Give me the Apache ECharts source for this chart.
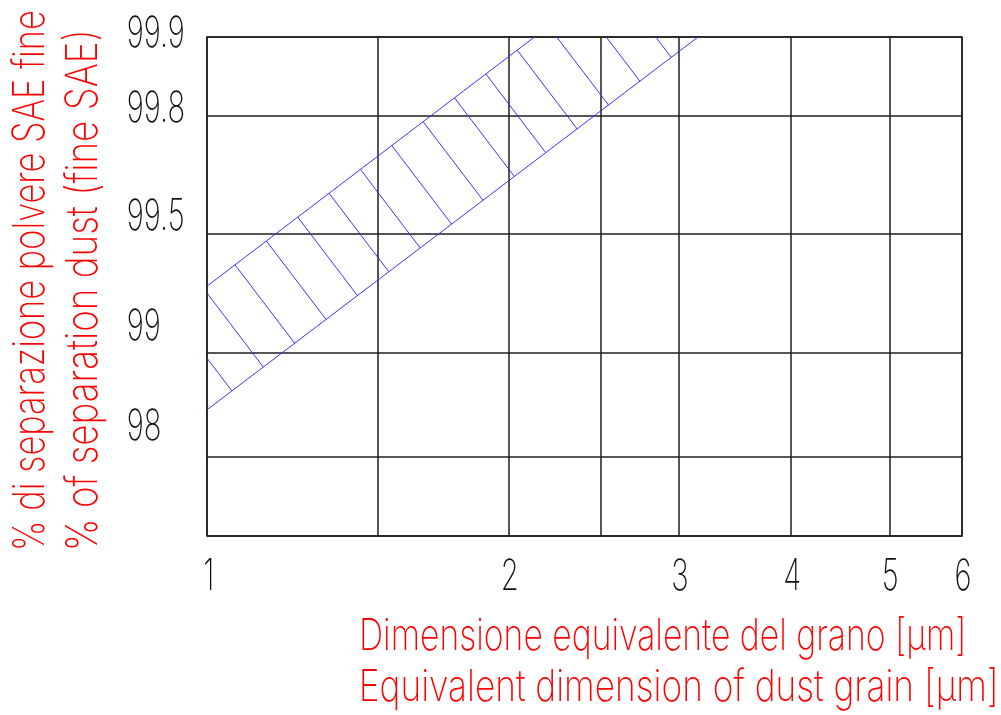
<!DOCTYPE html>
<html>
<head>
<meta charset="utf-8">
<title>Separazione polvere SAE fine</title>
<script src="https://cdn.jsdelivr.net/npm/echarts@6/dist/echarts.min.js"></script>
<style>
  html, body { margin: 0; padding: 0; background: #ffffff; }
  #chart { width: 1001px; height: 715px; }
</style>
</head>
<body>
<div id="chart"></div>
<script>
// ---------------- data ----------------
// grain size in µm, separation efficiency in %
const grainTicks = [1, 2, 3, 4, 5, 6];
const grainRulings = [1, 1.5, 2, 2.5, 3, 4, 5, 6];
const separationTicks = [99.9, 99.8, 99.5, 99, 98];
const separationRulings = [97, 98, 99, 99.5, 99.8, 99.9];

// edges of the efficiency band: [grain µm, separation %]
const bandUpper = [[1, 99.28], [2.14, 99.9]];
const bandLower = [[1, 98.45], [3.17, 99.9]];

const yTitleLines = ['% di separazione polvere SAE fine', '% of separation dust (fine SAE)'];
const xTitleLines = ['Dimensione equivalente del grano [µm]', 'Equivalent dimension of dust grain [µm]'];

// ---------------- ruled paper scales ----------------
// Both axes are hand-ruled, non-uniform scales: each ruling sits at a fixed
// fraction of the axis length, values in between are interpolated linearly.
function makeRuler(values, at) {
  return function (v) {
    for (let i = 1; i < values.length; i++) {
      if (v <= values[i] || i === values.length - 1) {
        const t = (v - values[i - 1]) / (values[i] - values[i - 1]);
        return at[i - 1] + t * (at[i] - at[i - 1]);
      }
    }
  };
}
const xRuler = makeRuler([1, 1.5, 2, 2.5, 3, 4, 5, 6],
                         [0, 0.2256, 0.3996, 0.5215, 0.6252, 0.7735, 0.9037, 1]);
const yRuler = makeRuler([97, 98, 99, 99.5, 99.8, 99.9],
                         [0, 0.159, 0.3677, 0.6052, 0.8417, 1]);
const onRuler = p => [xRuler(p[0]), yRuler(p[1])];

// ---------------- styles ----------------
const GRID_COLOR = '#1e1e1e';
const BAND_COLOR = '#3535ff';
const TITLE_COLOR = '#ff0000';
const LABEL_COLOR = '#111111';
const FONT_FAMILY = "Inter, 'DejaVu Sans', sans-serif";
const FONT_WEIGHT = 200;
const HATCH = { phase: 35.2, step: 39.4 };         // along the band, px
const yLabelLift = { 99.9: -2.8, 99.8: -7.3, 99.5: -16.8, 99: -25, 98: -30 };

// ---------------- hatching ----------------
function clipSegment(p, q, r) {
  let t0 = 0, t1 = 1;
  const dx = q[0] - p[0], dy = q[1] - p[1];
  const checks = [
    [-dx, p[0] - r.x], [dx, r.x + r.width - p[0]],
    [-dy, p[1] - r.y], [dy, r.y + r.height - p[1]]
  ];
  for (const [pp, qq] of checks) {
    if (pp === 0) { if (qq < 0) return null; continue; }
    const t = qq / pp;
    if (pp < 0) { if (t > t1) return null; if (t > t0) t0 = t; }
    else { if (t < t0) return null; if (t < t1) t1 = t; }
  }
  if (t1 - t0 < 1e-3) return null;
  return [[p[0] + t0 * dx, p[1] + t0 * dy], [p[0] + t1 * dx, p[1] + t1 * dy]];
}

function renderHatch(params, api) {
  const rect = params.coordSys;
  const a = api.coord(onRuler(bandUpper[0]));
  const b = api.coord(onRuler(bandUpper[1]));
  const c = api.coord(onRuler(bandLower[0]));
  const d = api.coord(onRuler(bandLower[1]));
  let ex = b[0] - a[0], ey = b[1] - a[1];
  const len = Math.hypot(ex, ey); ex /= len; ey /= len;
  let nx = -ey, ny = ex;
  if ((c[0] - a[0]) * nx + (c[1] - a[1]) * ny < 0) { nx = -nx; ny = -ny; }
  const lx = d[0] - c[0], ly = d[1] - c[1];
  const children = [];
  for (let s = HATCH.phase - 12 * HATCH.step; s < len + 12 * HATCH.step; s += HATCH.step) {
    const p = [a[0] + ex * s, a[1] + ey * s];
    // intersection of the perpendicular through p with the lower edge
    const den = nx * ly - ny * lx;
    const t = ((c[0] - p[0]) * ly - (c[1] - p[1]) * lx) / den;
    const q = [p[0] + nx * t, p[1] + ny * t];
    const seg = clipSegment(p, q, rect);
    if (!seg) continue;
    children.push({
      type: 'line',
      shape: { x1: seg[0][0], y1: seg[0][1], x2: seg[1][0], y2: seg[1][1] },
      style: { stroke: BAND_COLOR, lineWidth: 1 }
    });
  }
  return { type: 'group', children };
}

// ---------------- chart ----------------
const chart = echarts.init(document.getElementById('chart'), null, { renderer: 'canvas' });

const edgeSeries = (name, pts) => ({
  name, type: 'line', data: pts.map(onRuler), symbol: 'none', silent: true,
  lineStyle: { color: BAND_COLOR, width: 1 }, z: 3
});

chart.setOption({
  animation: false,
  backgroundColor: '#ffffff',
  grid: { left: 207, top: 37, right: 39, bottom: 179, show: true,
          borderColor: GRID_COLOR, borderWidth: 1.5, backgroundColor: 'transparent' },
  xAxis: {
    type: 'value', min: 0, max: 1,
    axisLine: { show: false },
    axisTick: { show: false, customValues: grainRulings.map(xRuler) },
    axisLabel: { show: false, customValues: grainTicks.map(xRuler) },
    splitLine: { show: true, lineStyle: { color: GRID_COLOR, width: 1.5 } }
  },
  yAxis: {
    type: 'value', min: 0, max: 1,
    axisLine: { show: false },
    axisTick: { show: false, customValues: separationRulings.map(yRuler) },
    axisLabel: { show: false, customValues: separationTicks.map(yRuler) },
    splitLine: { show: true, lineStyle: { color: GRID_COLOR, width: 1.5 } }
  },
  series: [
    edgeSeries('upper', bandUpper),
    edgeSeries('lower', bandLower),
    { type: 'custom', name: 'hatch', data: [[0, 0]], renderItem: renderHatch,
      clip: false, silent: true, z: 2 }
  ]
});

// ---------------- condensed drafting lettering ----------------
const measureCtx = document.createElement('canvas').getContext('2d');
function fontString(size) { return FONT_WEIGHT + ' ' + size + 'px ' + FONT_FAMILY; }
function ink(str, size) {
  measureCtx.font = fontString(size);
  const m = measureCtx.measureText(str);
  return { left: m.actualBoundingBoxLeft, width: m.actualBoundingBoxLeft + m.actualBoundingBoxRight };
}
function textEl(str, size, color, x, y, opts) {
  return Object.assign({
    type: 'text', x, y, silent: true, z: 100,
    style: {
      text: str, fill: color, fontSize: size, fontFamily: FONT_FAMILY, fontWeight: FONT_WEIGHT,
      align: 'left', textAlign: 'left', verticalAlign: 'middle', textVerticalAlign: 'middle'
    }
  }, opts || {});
}
// a text stretched so its ink runs over `length` px starting at `start`
function fittedText(str, size, color, start, length, across, vertical) {
  const m = ink(str, size);
  const s = length / m.width;
  if (vertical) {
    return textEl(str, size, color, across, start - m.left * s, { rotation: Math.PI / 2, scaleX: s });
  }
  return textEl(str, size, color, start + m.left * s, across, { scaleX: s });
}

function drawLettering() {
  const px = p => chart.convertToPixel({ gridIndex: 0 }, p);
  const bottom = px([0, 0])[1];
  const left = px([0, 0])[0];
  const tickSize = 43;
  const digitScale = 17 / (ink('9', tickSize).width + 4);
  const els = [];

  grainTicks.forEach(v => {
    const x = px([xRuler(v), 0])[0];
    const m = ink(String(v), tickSize);
    els.push(textEl(String(v), tickSize, LABEL_COLOR, x + 1 - m.width * digitScale / 2 + m.left * digitScale,
                    bottom + 41, { scaleX: digitScale }));
  });
  separationTicks.forEach(v => {
    const y = px([0, yRuler(v)])[1];
    const m = ink(String(v), tickSize);
    els.push(textEl(String(v), tickSize, LABEL_COLOR, left - 79 + m.left * digitScale,
                    y + (yLabelLift[v] || 0), { scaleX: digitScale }));
  });

  els.push(fittedText(xTitleLines[0], 44, TITLE_COLOR, 362, 601, 636.5, false));
  els.push(fittedText(xTitleLines[1], 44, TITLE_COLOR, 362, 633, 688, false));
  els.push(fittedText(yTitleLines[0], 44, TITLE_COLOR, 548, 536, 30.5, true));
  els.push(fittedText(yTitleLines[1], 44, TITLE_COLOR, 548, 515, 83.5, true));

  chart.setOption({ graphic: { elements: els } });
}
drawLettering();
</script>
</body>
</html>
